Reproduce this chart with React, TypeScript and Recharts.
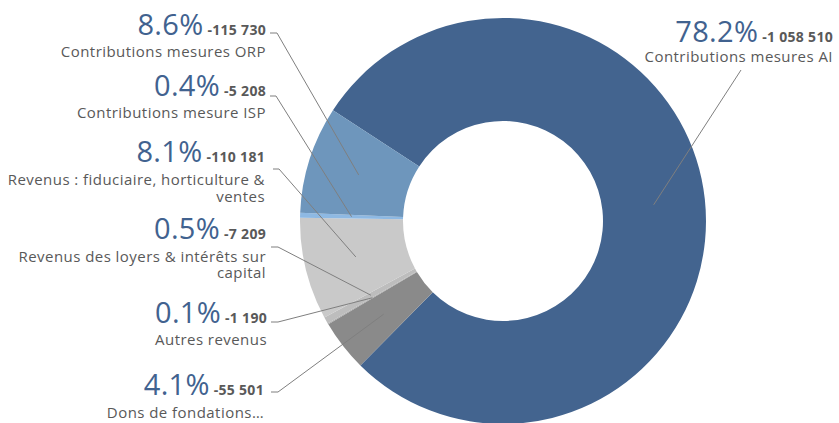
import React from "react";
import { PieChart, Pie, Cell } from "recharts";

// slices listed clockwise, starting at the AI slice
const categories = [
  "Contributions mesures AI",
  "Dons de fondations…",
  "Autres revenus",
  "Revenus des loyers & intérêts sur capital",
  "Revenus : fiduciaire, horticulture & ventes",
  "Contributions mesure ISP",
  "Contributions mesures ORP",
];
const amounts = [1058510, 55501, 1190, 7209, 110181, 5208, 115730];
const colors = ["#43648F", "#8A8A8A", "#A6A6A6", "#BDBDBD", "#C9C9C9", "#8EB9E3", "#6E96BC"];

// how the long names wrap in the labels
const labelLines = [
  ["Contributions mesures AI"],
  ["Dons de fondations…"],
  ["Autres revenus"],
  ["Revenus des loyers & intérêts sur", "capital"],
  ["Revenus : fiduciaire, horticulture &", "ventes"],
  ["Contributions mesure ISP"],
  ["Contributions mesures ORP"],
];

const data = categories.map((name, i) => ({ name, value: amounts[i] }));

// label placement (text right edge, baselines, leader end + elbow)
const labelLayout = [
  { x: 833, pctY: 42, nameY: [62], end: [741, 70], elbow: [741, 70] },
  { x: 264, pctY: 395, nameY: [418], end: [271, 392], elbow: [278, 392] },
  { x: 267, pctY: 323, nameY: [345], end: [271, 322], elbow: [278, 322] },
  { x: 266, pctY: 239, nameY: [262, 278], end: [271, 247], elbow: [278, 247] },
  { x: 265, pctY: 162, nameY: [185, 202], end: [273, 169], elbow: [279, 169] },
  { x: 266, pctY: 96, nameY: [118], end: [270, 96], elbow: [276, 96] },
  { x: 266, pctY: 35, nameY: [57], end: [270, 33], elbow: [277, 33] },
];

const FONT = "'Open Sans', sans-serif";
const RAD = Math.PI / 180;

const fmt = (v: number) => "-" + String(v).replace(/\B(?=(\d{3})+(?!\d))/g, " ");

function renderLabel(props: any) {
  const { cx, cy, midAngle, innerRadius, outerRadius, percent, index, value } = props;
  const lay = labelLayout[index];
  const r = (innerRadius + outerRadius) / 2;
  const ax = cx + r * Math.cos(-midAngle * RAD);
  const ay = cy + r * Math.sin(-midAngle * RAD);
  return (
    <g key={`lbl-${index}`}>
      <polyline
        points={`${ax},${ay} ${lay.elbow[0]},${lay.elbow[1]} ${lay.end[0]},${lay.end[1]}`}
        fill="none"
        stroke="#7F7F7F"
        strokeWidth={1}
      />
      <text x={lay.x} y={lay.pctY} textAnchor="end" fontFamily={FONT}>
        <tspan fontSize={29} fill="#41628F" letterSpacing={0.3}>
          {(percent * 100).toFixed(1)}%
        </tspan>
        <tspan fontSize={14} fontWeight="bold" fill="#595959" dx={4} letterSpacing={0.3}>
          {fmt(value)}
        </tspan>
      </text>
      {labelLines[index].map((line, j) => (
        <text
          key={j}
          x={lay.x}
          y={lay.nameY[j]}
          textAnchor="end"
          fontFamily={FONT}
          fontSize={15}
          letterSpacing={0.45}
          fill="#595959"
        >
          {line}
        </text>
      ))}
    </g>
  );
}

export default function App() {
  return (
    <div style={{ position: "absolute", left: 0, top: 0, background: "#fff" }}>
      <PieChart width={839} height={423} margin={{ top: 0, right: 0, bottom: 0, left: 0 }}>
        <Pie
          data={data}
          dataKey="value"
          nameKey="name"
          cx={503}
          cy={221}
          innerRadius={100}
          outerRadius={203}
          startAngle={146.9}
          endAngle={-213.1}
          stroke="none"
          labelLine={false}
          label={renderLabel}
          isAnimationActive={false}
        >
          {data.map((d, i) => (
            <Cell key={d.name} fill={colors[i]} />
          ))}
        </Pie>
      </PieChart>
    </div>
  );
}
